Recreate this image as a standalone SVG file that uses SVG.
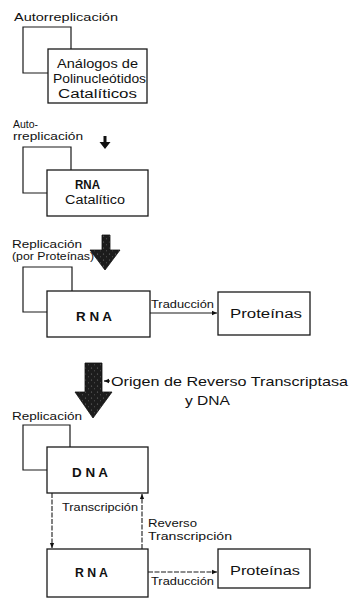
<svg xmlns="http://www.w3.org/2000/svg" width="352" height="614" viewBox="0 0 352 614">
<style>
.box{fill:#fff;stroke:#1a1a1a;stroke-width:1.3}
.ln{fill:none;stroke:#1a1a1a;stroke-width:1.2}
.dash{fill:none;stroke:#1a1a1a;stroke-width:1.1;stroke-dasharray:5 1.5}
.t{font-family:"Liberation Sans",Arial,sans-serif;font-size:11px;fill:#111}
.b{font-family:"Liberation Sans",Arial,sans-serif;font-size:12.5px;fill:#111}
.bb{font-family:"Liberation Sans",Arial,sans-serif;font-size:13px;font-weight:bold;fill:#111}
.big{font-family:"Liberation Sans",Arial,sans-serif;font-size:13px;fill:#111}
.arr{fill:url(#stip);stroke:#111;stroke-width:0.8}
</style>
<defs>
<pattern id="stip" width="6" height="6" patternUnits="userSpaceOnUse">
<rect width="6" height="6" fill="#1c1c1c"/>
<circle cx="1.5" cy="2" r="0.6" fill="#777"/>
<circle cx="4.5" cy="4.8" r="0.5" fill="#666"/>
</pattern>
<marker id="ah" viewBox="0 0 8 8" refX="7" refY="4" markerWidth="6" markerHeight="6" orient="auto" markerUnits="userSpaceOnUse">
<path d="M0,1 L7,4 L0,7 Z" fill="#111"/>
</marker>
</defs>

<g id="connectors">
<path class="ln" d="M71,49 V27 H23 V73 H48"/>
<path class="ln" d="M71,170 V147 H23 V193 H47"/>
<path class="ln" d="M72,291 V267 H23 V312 H47"/>
<path class="ln" d="M70,447 V425 H23 V470 H47"/>
<path d="M103.5,136 H106.5 V142 H110.5 L105,149 L99.5,142 H103.5 Z" fill="#111"/>
<path class="arr" d="M102,235 H110 V250 H120 L105,270 L90,250 H102 Z"/>
<path class="arr" d="M85,363 H102 V392 H112 L93,418 L75,392 H85 Z"/>
<line class="ln" x1="110" y1="381" x2="104" y2="381" marker-end="url(#ah)"/>
<line class="ln" x1="150" y1="313" x2="217" y2="313" marker-end="url(#ah)"/>
<line class="dash" x1="52" y1="493" x2="52" y2="548" marker-end="url(#ah)"/>
<line class="dash" x1="142" y1="549" x2="142" y2="494" marker-end="url(#ah)"/>
<line class="dash" x1="148" y1="572" x2="217" y2="572" marker-end="url(#ah)"/>
</g>

<g id="n1">
<rect class="box" x="48" y="49" width="99" height="54"/>
<text class="b" x="97.5" y="68" text-anchor="middle" textLength="81" lengthAdjust="spacingAndGlyphs">Análogos de</text>
<text class="b" x="99.5" y="83" text-anchor="middle" textLength="93" lengthAdjust="spacingAndGlyphs">Polinucleótidos</text>
<text class="b" x="97.5" y="98" text-anchor="middle" textLength="79" lengthAdjust="spacingAndGlyphs">Catalíticos</text>
</g>
<text class="t" x="14" y="21" textLength="104" lengthAdjust="spacingAndGlyphs">Autorreplicación</text>

<g id="n2">
<rect class="box" x="47" y="170" width="101" height="46"/>
<text class="bb" x="87.5" y="189" text-anchor="middle" textLength="25" lengthAdjust="spacingAndGlyphs">RNA</text>
<text class="b" x="95" y="204" text-anchor="middle" textLength="60" lengthAdjust="spacingAndGlyphs">Catalítico</text>
</g>
<text class="t" x="13" y="128" textLength="25" lengthAdjust="spacingAndGlyphs">Auto-</text>
<text class="t" x="13" y="140" textLength="70" lengthAdjust="spacingAndGlyphs">rreplicación</text>

<text class="t" x="12" y="248" textLength="70" lengthAdjust="spacingAndGlyphs">Replicación</text>
<text class="t" x="12" y="260" textLength="82" lengthAdjust="spacingAndGlyphs">(por Proteínas)</text>

<g id="n3">
<rect class="box" x="47" y="291" width="103" height="46"/>
<text class="bb" x="94" y="321" text-anchor="middle" textLength="36" lengthAdjust="spacingAndGlyphs">R N A</text>
</g>
<text class="t" x="151" y="308" textLength="63" lengthAdjust="spacingAndGlyphs">Traducción</text>

<g id="n4">
<rect class="box" x="218" y="292" width="92" height="43"/>
<text class="b" x="266" y="318" text-anchor="middle" textLength="72" lengthAdjust="spacingAndGlyphs">Proteínas</text>
</g>

<text class="big" x="111" y="386" textLength="237" lengthAdjust="spacingAndGlyphs">Origen de Reverso Transcriptasa</text>
<text class="big" x="185" y="405" textLength="45" lengthAdjust="spacingAndGlyphs">y  DNA</text>
<text class="t" x="12" y="420" textLength="70" lengthAdjust="spacingAndGlyphs">Replicación</text>

<g id="n5">
<rect class="box" x="47" y="447" width="101" height="46"/>
<text class="bb" x="90" y="477" text-anchor="middle" textLength="36" lengthAdjust="spacingAndGlyphs">D N A</text>
</g>
<text class="t" x="62" y="511" textLength="76" lengthAdjust="spacingAndGlyphs">Transcripción</text>
<text class="t" x="148" y="527" textLength="49" lengthAdjust="spacingAndGlyphs">Reverso</text>
<text class="t" x="148" y="540" textLength="84" lengthAdjust="spacingAndGlyphs">Transcripción</text>

<g id="n6">
<rect class="box" x="47" y="549" width="101" height="48"/>
<text class="bb" x="91.5" y="577" text-anchor="middle" textLength="33" lengthAdjust="spacingAndGlyphs">R N A</text>
</g>
<text class="t" x="151" y="585" textLength="63" lengthAdjust="spacingAndGlyphs">Traducción</text>

<g id="n7">
<rect class="box" x="218" y="549" width="92" height="39"/>
<text class="b" x="265" y="575" text-anchor="middle" textLength="70" lengthAdjust="spacingAndGlyphs">Proteínas</text>
</g>
</svg>
